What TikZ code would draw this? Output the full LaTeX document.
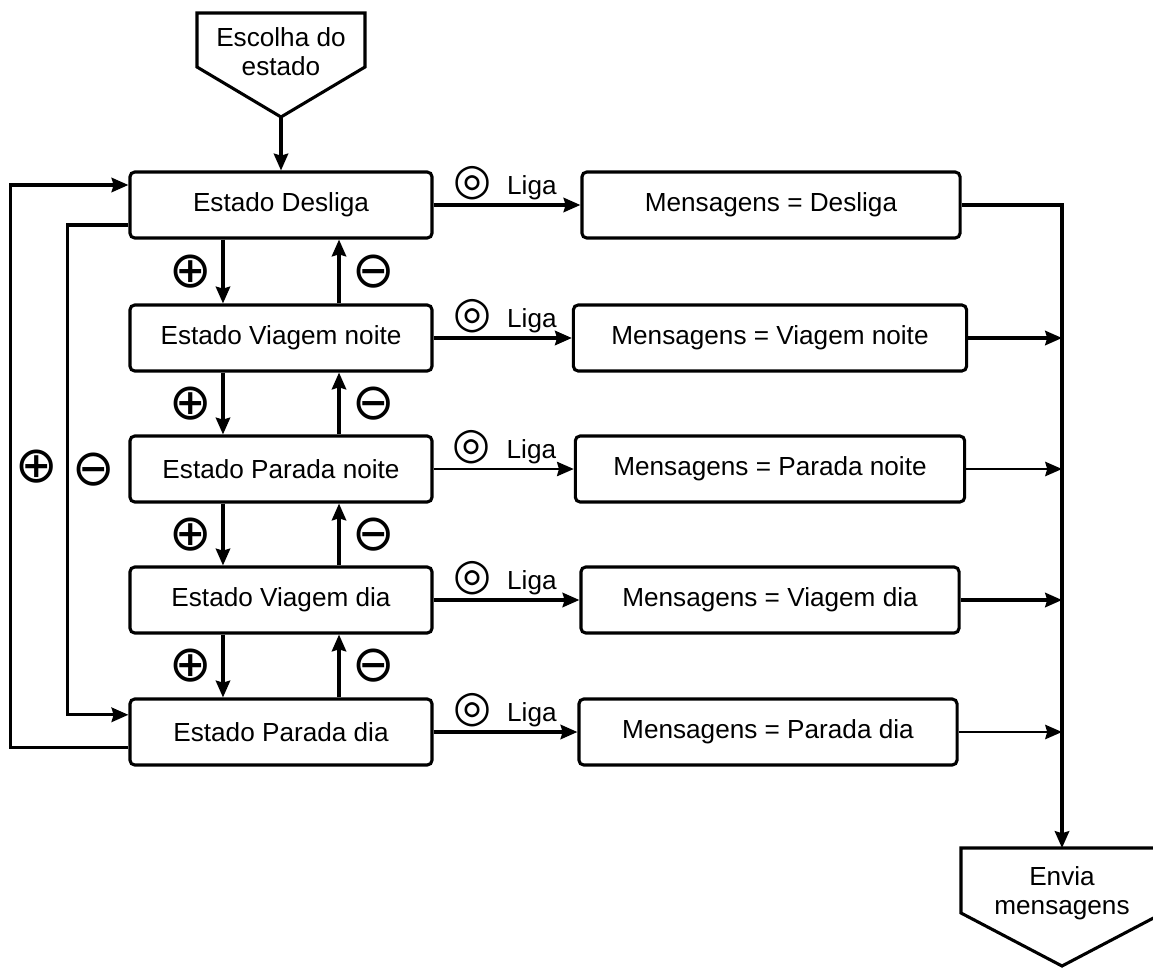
\documentclass[tikz,border=0pt]{standalone}
\usepackage{fontspec}
\setmainfont{Liberation Sans}
\newfontfamily\simbolos{DejaVu Sans}
\usetikzlibrary{arrows.meta}
\usetikzlibrary{calc}

\newcommand{\mais}{{\simbolos\fontsize{36}{36}\selectfont ⊕}}
\newcommand{\menos}{{\simbolos\fontsize{36}{36}\selectfont ⊖}}
\newcommand{\ligaTexto}{{\simbolos\bfseries\fontsize{31}{31}\selectfont ◎}\hspace{0.4cm}Liga}

\begin{document}
\begin{tikzpicture}[x=0.025cm, y=-0.025cm, line width=2.2pt,
		font=\fontsize{18.6}{20.6}\selectfont,
		estado/.style={draw, rounded corners=0.12cm, minimum width=7.55cm, minimum height=1.65cm, inner sep=0pt},
		msg/.style={draw, rounded corners=0.12cm, minimum width=9.45cm, minimum height=1.65cm, inner xsep=0.95cm, inner ysep=0pt},
		seta/.style={-{Stealth[length=0.42cm, width=0.36cm, inset=0.05cm]}},
		fino/.style={line width=1.5pt},
		sinal/.style={inner sep=0pt},
		liga/.style={pos=0, anchor=base west, xshift=0.45cm, yshift=0.26cm, inner sep=0pt}]
			\clip (0,0) rectangle (1153,968);

			% entrada e saida
			\draw (197,13) -- (365,13) -- (365,67) -- (281,117) -- (197,67) -- cycle;
			\node [align=center] (Escolha) at (281,52) {Escolha do\\estado};
			\coordinate (EscolhaPonta) at (281,117);
			\draw (961,848) -- (1163,848) -- (1163,913) -- (1062,966) -- (961,913) -- cycle;
			\node [align=center] (Envia) at (1062,893) {Envia\\mensagens};
			\coordinate (EnviaTopo) at (1062,848);

			% estados
			\node [estado] (Desliga) at (281,205) {Estado Desliga};
			\node [estado] (ViagemNoite) at (281,338) {Estado Viagem noite};
			\node [estado] (ParadaNoite) at (281,469) {Estado Parada noite};
			\node [estado] (ViagemDia) at (281,600) {Estado Viagem dia};
			\node [estado] (ParadaDia) at (281,732) {Estado Parada dia};

			% mensagens
			\node [msg] (MsgDesliga) at (771,205) {Mensagens = Desliga};
			\node [msg] (MsgViagemNoite) at (770,338) {Mensagens = Viagem noite};
			\node [msg] (MsgParadaNoite) at (770,469) {Mensagens = Parada noite};
			\node [msg] (MsgViagemDia) at (770,600) {Mensagens = Viagem dia};
			\node [msg] (MsgParadaDia) at (768,732) {Mensagens = Parada dia};

			\draw[seta] (EscolhaPonta) -- (Desliga);

			% + desce, - sobe
			\draw[seta] ([xshift=-1.45cm]Desliga.south) -- node[left=0.25cm, sinal] {\mais} ([xshift=-1.45cm]ViagemNoite.north);
			\draw[seta] ([xshift=1.45cm]ViagemNoite.north) -- node[right=0.3cm, sinal] {\menos} ([xshift=1.45cm]Desliga.south);
			\draw[seta] ([xshift=-1.45cm]ViagemNoite.south) -- node[left=0.25cm, sinal] {\mais} ([xshift=-1.45cm]ParadaNoite.north);
			\draw[seta] ([xshift=1.45cm]ParadaNoite.north) -- node[right=0.3cm, sinal] {\menos} ([xshift=1.45cm]ViagemNoite.south);
			\draw[seta] ([xshift=-1.45cm]ParadaNoite.south) -- node[left=0.25cm, sinal] {\mais} ([xshift=-1.45cm]ViagemDia.north);
			\draw[seta] ([xshift=1.45cm]ViagemDia.north) -- node[right=0.3cm, sinal] {\menos} ([xshift=1.45cm]ParadaNoite.south);
			\draw[seta] ([xshift=-1.45cm]ViagemDia.south) -- node[left=0.25cm, sinal] {\mais} ([xshift=-1.45cm]ParadaDia.north);
			\draw[seta] ([xshift=1.45cm]ParadaDia.north) -- node[right=0.3cm, sinal] {\menos} ([xshift=1.45cm]ViagemDia.south);

			% voltas pela esquerda
			\draw[seta] ([yshift=-0.38cm]ParadaDia.west) -- ++(-118,0) |- node[pos=0.25, right=0.08cm, sinal] {\mais} ([yshift=0.5cm]Desliga.west);
			\draw[seta] ([yshift=-0.5cm]Desliga.west) -- ++(-61,0) |- node[pos=0.25, right=0.08cm, sinal] {\menos} ([yshift=0.43cm]ParadaDia.west);

			% liga
			\draw[seta] (Desliga) -- node[liga] {\ligaTexto} (MsgDesliga);
			\draw[seta] (ViagemNoite) -- node[liga] {\ligaTexto} (MsgViagemNoite);
			\draw[seta, fino] (ParadaNoite) -- node[liga] {\ligaTexto} (MsgParadaNoite);
			\draw[seta] (ViagemDia) -- node[liga] {\ligaTexto} (MsgViagemDia);
			\draw[seta] (ParadaDia) -- node[liga] {\ligaTexto} (MsgParadaDia);

			% envio
			\draw[seta] (MsgDesliga.east) -- (MsgDesliga.east -| EnviaTopo) -- (EnviaTopo);
			\draw[seta] (MsgViagemNoite) -- (MsgViagemNoite -| EnviaTopo);
			\draw[seta, fino] (MsgParadaNoite) -- (MsgParadaNoite -| EnviaTopo);
			\draw[seta] (MsgViagemDia) -- (MsgViagemDia -| EnviaTopo);
			\draw[seta, fino] (MsgParadaDia) -- (MsgParadaDia -| EnviaTopo);
		\end{tikzpicture}
\end{document}
